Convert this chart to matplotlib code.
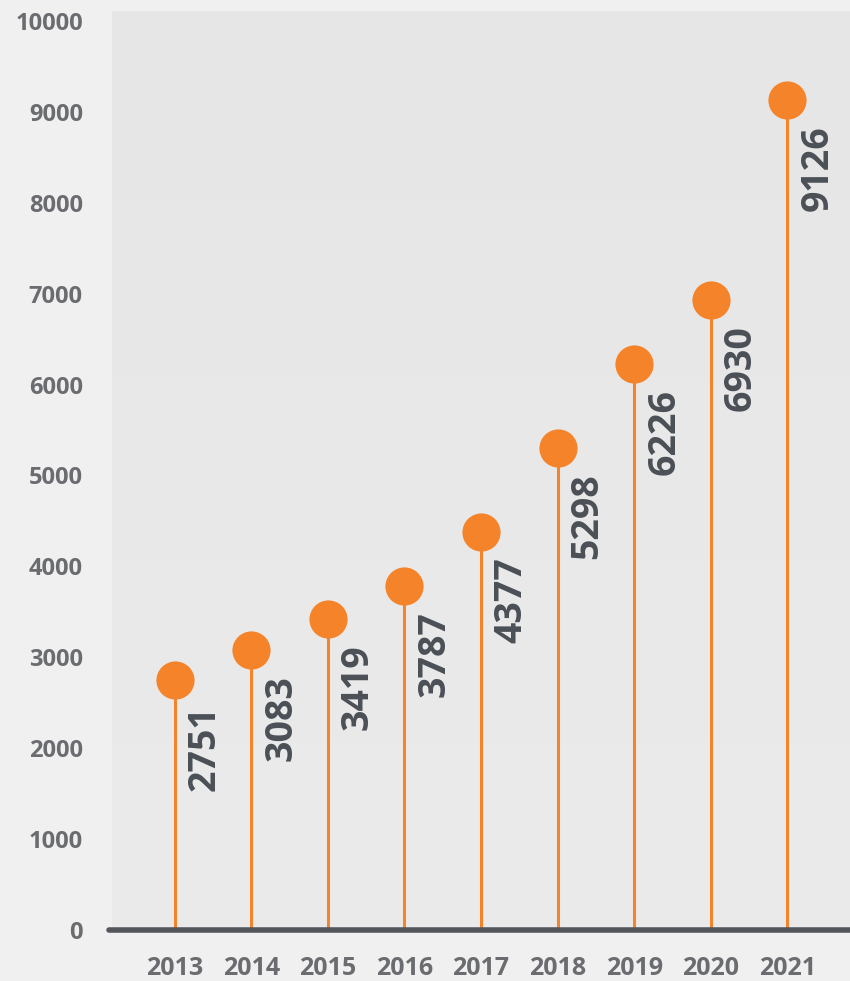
import matplotlib.pyplot as plt
import numpy as np

years = [2013, 2014, 2015, 2016, 2017, 2018, 2019, 2020, 2021]
values = [2751, 3083, 3419, 3787, 4377, 5298, 6226, 6930, 9126]
yticks = [0, 1000, 2000, 3000, 4000, 5000, 6000, 7000, 8000, 9000, 10000]

orange = '#f4832a'
label_col = '#4b5057'
tick_col = '#6b6c70'

plt.rcParams['font.family'] = ['Open Sans', 'DejaVu Sans']

fig = plt.figure(figsize=(8.5, 9.81), dpi=100)
fig.patch.set_facecolor('#f0f0f0')
ax = fig.add_axes([112/850, 51/981, 1 - 112/850, (930-11)/981])

x0, x1 = 2012.18, 2021.82
ax.set_xlim(x0, x1)
ax.set_ylim(0, 10110)

# gradient background of the plot area
grad = np.linspace(0, 1, 256).reshape(-1, 1)
ax.imshow(grad, cmap=plt.matplotlib.colors.LinearSegmentedColormap.from_list(
    'bg', ['#ebebeb', '#e6e6e7']), extent=[x0, x1, 0, 10110],
    aspect='auto', origin='lower', zorder=0)

ax.vlines(years, 0, values, color=orange, lw=2.2, zorder=2)
ax.plot(years, values, 'o', color=orange, ms=27.5, mec='none', zorder=3)

for x, v in zip(years, values):
    ax.annotate(str(v), (x, v), xytext=(8, -18), textcoords='offset points',
                rotation=90, ha='left', va='top', fontsize=27,
                fontweight='bold', color=label_col, zorder=4)

for s in ax.spines.values():
    s.set_visible(False)
ax.axhline(0, color='#53575c', lw=4, solid_capstyle='round', zorder=5,
           xmin=-0.004, clip_on=False)

ax.set_xticks(years)
ax.set_xticklabels([str(y) for y in years])
ax.set_yticks(yticks)
ax.set_yticklabels([str(t) for t in yticks])
ax.tick_params(length=0, colors=tick_col)
ax.tick_params(axis='y', pad=21, labelsize=17)
ax.tick_params(axis='x', pad=19, labelsize=18)
for lab in ax.get_xticklabels() + ax.get_yticklabels():
    lab.set_fontweight('bold')

fig.savefig('out.png', dpi=100, facecolor=fig.get_facecolor())
